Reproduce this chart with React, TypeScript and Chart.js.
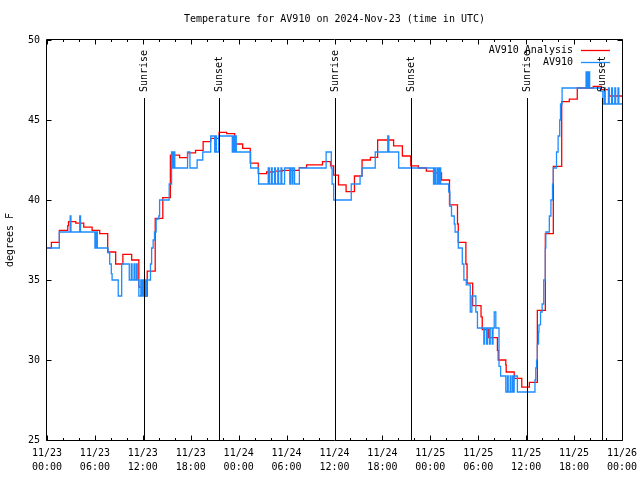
import React, { useEffect, useRef } from 'react';
import { Chart, registerables } from 'chart.js';

Chart.register(...registerables);

const TITLE = 'Temperature for AV910 on 2024-Nov-23 (time in UTC)';
const Y_TITLE = 'degrees F';
const SERIES_LABELS = ['AV910 Analysis', 'AV910'];
const SERIES_COLORS = ['#ff0000', '#1e8cff'];

// x axis: hours since 2024-11-23 00:00 UTC
const tickDates = ['11/23', '11/23', '11/23', '11/23', '11/24', '11/24', '11/24', '11/24', '11/25', '11/25', '11/25', '11/25', '11/26'];
const tickTimes = ['00:00', '06:00', '12:00', '18:00', '00:00', '06:00', '12:00', '18:00', '00:00', '06:00', '12:00', '18:00', '00:00'];

const sunEventHours = [12.15, 21.5, 36.05, 45.55, 60.05, 69.45];
const sunEventLabels = ['Sunrise', 'Sunset', 'Sunrise', 'Sunset', 'Sunrise', 'Sunset'];

// analysis (red), value holds from each mark until the next
const analysisHours = [0, 0.55, 1.55, 2.6, 2.7, 3.6, 4.6, 5.65, 6.6, 7.6, 8.6, 9.5, 10.6, 11.5, 12.3, 12.55, 13.55, 14.5, 15.45, 16.6, 17.6, 18.6, 19.55, 20.5, 21.55, 22.5, 23.5, 24.5, 25.45, 26.45, 27.5, 28.5, 29.5, 31.6, 32.5, 34.5, 35.5, 35.9, 36.5, 37.45, 38.5, 39.45, 40.5, 41.4, 43.4, 44.5, 45.55, 46.5, 47.5, 48.4, 49.4, 50.4, 51.4, 51.5, 52.45, 52.6, 53.3, 54.35, 54.5, 55.3, 56.4, 56.5, 57.45, 57.5, 58.5, 59.45, 60.4, 61.4, 62.4, 63.4, 64.45, 65.4, 66.4, 68.4, 69.4, 70.4, 72];
const analysisTemps = [37.0, 37.35, 38.1, 38.4, 38.65, 38.55, 38.3, 38.1, 37.9, 36.75, 36.0, 36.6, 36.25, 34.55, 34.0, 35.55, 38.85, 40.15, 42.8, 42.65, 42.95, 43.1, 43.65, 43.85, 44.23, 44.15, 43.5, 43.23, 42.3, 41.65, 41.75, 41.8, 41.85, 42.02, 42.19, 42.4, 42.13, 41.56, 40.94, 40.52, 41.5, 42.5, 42.67, 43.75, 43.38, 42.75, 42.13, 42.0, 41.8, 41.7, 41.25, 39.7, 38.5, 37.35, 36.0, 34.8, 33.4, 32.7, 31.9, 31.4, 30.6, 30.0, 29.7, 29.25, 28.85, 28.3, 28.6, 33.1, 37.9, 42.1, 46.15, 46.3, 47.0, 47.1, 46.9, 46.5, 46.5];

// observations (blue), value holds from each report until the next
const obsHours = [0, 1.54, 2.9, 3.0, 4.1, 4.2, 6.0, 6.15, 6.3, 7.65, 7.85, 8.05, 8.15, 8.92, 9.35, 10.3, 10.55, 10.65, 10.9, 11.0, 11.2, 11.3, 11.5, 11.75, 11.85, 12.0, 12.1, 12.25, 12.35, 12.5, 12.96, 13.1, 13.29, 13.46, 13.67, 14.0, 14.1, 15.3, 15.6, 15.75, 15.85, 16.0, 17.6, 17.9, 18.8, 19.5, 20.5, 21.0, 21.1, 21.2, 21.5, 23.2, 23.3, 23.45, 23.55, 23.7, 25.5, 26.5, 27.7, 27.85, 28.1, 28.2, 28.5, 28.6, 28.9, 29.0, 29.3, 29.4, 29.75, 30.4, 30.5, 30.7, 30.8, 31.0, 31.6, 34.95, 35.6, 35.7, 35.9, 38.1, 39.2, 39.45, 41.1, 42.67, 42.8, 44.04, 48.4, 48.55, 48.7, 48.9, 49.0, 49.15, 49.3, 50.3, 50.45, 50.65, 51.0, 51.1, 51.5, 52.0, 52.2, 52.5, 53.0, 53.2, 53.7, 53.9, 54.7, 54.8, 55.05, 55.15, 55.4, 55.5, 55.75, 55.85, 56.0, 56.2, 56.6, 56.8, 57.45, 57.65, 57.75, 58.0, 58.1, 58.3, 58.4, 58.5, 58.9, 61.1, 61.2, 61.3, 61.4, 61.55, 61.6, 61.8, 62.0, 62.2, 62.4, 62.46, 62.9, 63.1, 63.3, 63.4, 63.8, 64.0, 64.2, 64.3, 64.5, 67.5, 67.65, 67.8, 67.95, 69.3, 69.6, 69.8, 69.9, 70.3, 70.4, 70.7, 70.8, 71.1, 71.2, 71.5, 71.6, 72];
const obsTemps = [37, 38, 39, 38, 39, 38, 37, 38, 37, 36.7, 36, 35.4, 35, 34, 36, 35, 36, 35, 36, 35, 36, 35, 34, 35, 34, 35, 34, 35, 34, 35, 36, 37, 37.5, 38, 38.8, 39, 40, 41, 43, 42, 43, 42, 43, 42, 42.5, 43, 44, 43, 44, 43, 44, 43, 44, 43, 44, 43, 42, 41, 42, 41, 42, 41, 42, 41, 42, 41, 42, 41, 42, 41, 42, 41, 42, 41, 42, 43, 42, 41, 40, 41, 41.5, 42, 43, 44, 43, 42, 41, 42, 41, 42, 41, 42, 41, 40.5, 39.6, 39, 38.5, 38, 37, 36, 35, 34.7, 33, 34, 33, 32, 31, 32, 31, 32, 31, 32, 31, 32, 33, 32, 29.6, 29, 28, 29, 28, 29, 28, 29, 28, 29, 28, 28.75, 29.5, 30, 31, 31.75, 32.2, 33, 33.5, 35, 37, 38, 39, 40, 41, 42, 43, 44, 45, 46, 47, 48, 47, 48, 47, 46.8, 46, 47, 46, 47, 46, 47, 46, 47, 46, 47, 46, 46];

const yTickValues = [25, 30, 35, 40, 45, 50];

const FONT_FAMILY = '"DejaVu Sans Mono", "Liberation Mono", monospace';
const FONT = '10px ' + FONT_FAMILY;

const decorPlugin = {
  id: 'decor',
  afterDatasetsDraw(chart: any) {
    const { ctx, chartArea: a, scales } = chart;
    const x = scales.x;
    const y = scales.y;
    ctx.save();
    ctx.strokeStyle = '#000';
    ctx.fillStyle = '#000';
    ctx.lineWidth = 1;
    ctx.font = FONT;

    // sunrise / sunset lines
    sunEventHours.forEach((h, i) => {
      const px = Math.round(x.getPixelForValue(h)) + 0.5;
      ctx.beginPath();
      ctx.moveTo(px, 98);
      ctx.lineTo(px, a.bottom);
      ctx.stroke();
      ctx.save();
      ctx.translate(px, 92);
      ctx.rotate(-Math.PI / 2);
      ctx.textAlign = 'left';
      ctx.textBaseline = 'middle';
      ctx.fillText(sunEventLabels[i], 0, 0);
      ctx.restore();
    });

    // frame
    const L = a.left - 0.5, R = a.right + 0.5, T = a.top - 0.5, B = a.bottom + 0.5;
    ctx.beginPath();
    ctx.rect(L, T, R - L, B - T);
    ctx.stroke();

    // x ticks (minor every 2h, major every 6h), inward on bottom and top
    ctx.beginPath();
    for (let h = 0; h <= 72; h += 2) {
      const px = Math.round(x.getPixelForValue(h)) + 0.5;
      const len = h % 6 === 0 ? 5 : 2.5;
      ctx.moveTo(px, B);
      ctx.lineTo(px, B - len);
      ctx.moveTo(px, T);
      ctx.lineTo(px, T + len);
    }
    yTickValues.forEach((v) => {
      const py = Math.round(y.getPixelForValue(v)) + 0.5;
      ctx.moveTo(L, py);
      ctx.lineTo(L + 5, py);
      ctx.moveTo(R, py);
      ctx.lineTo(R - 5, py);
    });
    ctx.stroke();

    // title
    ctx.textAlign = 'center';
    ctx.textBaseline = 'middle';
    ctx.fillText(TITLE, (a.left + a.right) / 2, 19);

    // y title
    ctx.save();
    ctx.translate(10, 240);
    ctx.rotate(-Math.PI / 2);
    ctx.fillText(Y_TITLE, 0, 0);
    ctx.restore();

    // legend
    chart.data.datasets.forEach((ds: any, i: number) => {
      const ly = 50 + i * 12;
      ctx.textAlign = 'right';
      ctx.fillStyle = '#000';
      ctx.fillText(ds.label, 573, ly);
      ctx.strokeStyle = ds.borderColor;
      ctx.lineWidth = 1.3;
      ctx.beginPath();
      ctx.moveTo(581, ly + 0.5);
      ctx.lineTo(610, ly + 0.5);
      ctx.stroke();
    });
    ctx.restore();
  },
};

export default function App() {
  const ref = useRef<HTMLCanvasElement | null>(null);
  useEffect(() => {
    document.body.style.margin = '0';
    const canvas = ref.current;
    if (!canvas) return;
    const analysis = analysisHours.map((h, i) => ({ x: h, y: analysisTemps[i] }));
    const obs = obsHours.map((h, i) => ({ x: h, y: obsTemps[i] }));
    const chart = new Chart(canvas, {
      type: 'line',
      data: {
        datasets: [
          {
            label: SERIES_LABELS[0],
            data: analysis,
            borderColor: SERIES_COLORS[0],
            borderWidth: 1.3,
            pointRadius: 0,
            stepped: 'before',
            order: 1,
          },
          {
            label: SERIES_LABELS[1],
            data: obs,
            borderColor: SERIES_COLORS[1],
            borderWidth: 1.3,
            pointRadius: 0,
            stepped: 'before',
            order: 0,
          },
        ],
      },
      options: {
        responsive: false,
        animation: false,
        events: [],
        layout: { padding: { top: 40, right: 18, left: 0, bottom: 0 } },
        plugins: { legend: { display: false }, title: { display: false }, tooltip: { enabled: false } },
        scales: {
          x: {
            type: 'linear',
            min: 0,
            max: 72,
            grid: { display: false, drawTicks: false },
            border: { display: false },
            afterFit: (s: any) => { s.height = 40; s.paddingLeft = 0; s.paddingRight = 0; },
            ticks: {
              stepSize: 6,
              autoSkip: false,
              maxRotation: 0,
              minRotation: 0,
              padding: 7,
              color: '#000',
              font: { family: FONT_FAMILY, size: 10, lineHeight: 1.35 },
              callback: (v: any) => {
                const i = Math.round(Number(v) / 6);
                return [tickDates[i], tickTimes[i]];
              },
            },
          },
          y: {
            type: 'linear',
            min: 25,
            max: 50,
            grid: { display: false, drawTicks: false },
            border: { display: false },
            afterFit: (s: any) => { s.width = 47; s.paddingTop = 0; s.paddingBottom = 0; },
            ticks: {
              stepSize: 5,
              padding: 7,
              color: '#000',
              font: { family: FONT_FAMILY, size: 10 },
            },
          },
        },
      },
      plugins: [decorPlugin],
    });
    return () => chart.destroy();
  }, []);
  return (
    <canvas ref={ref} width={640} height={480} style={{ display: 'block', width: 640, height: 480 }} />
  );
}
